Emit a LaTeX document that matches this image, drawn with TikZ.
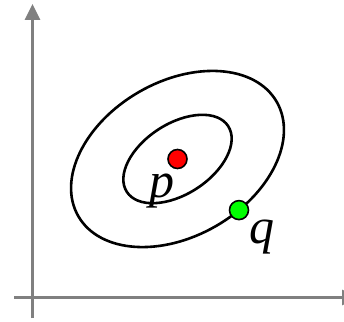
\documentclass[tikz,border=0pt]{standalone}
\usepackage{fontspec}
\setmainfont{Liberation Serif}
\usetikzlibrary{arrows.meta,positioning}
\definecolor{axisgray}{HTML}{808080}
\definecolor{meanred}{HTML}{FF0000}
\definecolor{pointgreen}{HTML}{00FF00}

\begin{document}
\begin{tikzpicture}[
  x=1pt,y=1pt,
  axis/.style={axisgray,line width=3pt,-{Triangle[width=15pt,length=16pt]}},
  level/.style={black,line width=2.6pt},
  dot/.style={circle,draw=black,line width=1.6pt,fill=#1,minimum size=19pt,inner sep=0pt},
  label/.style={font=\fontsize{50}{50}\selectfont\itshape,inner sep=0pt}
]
  \useasboundingbox (0,0) rectangle (344,321);
  % axes
  \coordinate (ybot) at (32.5,3);
  \coordinate (ytop) at (32.5,317);
  \coordinate (xleft) at (14,23.5);
  \coordinate (xright) at (358,23.5);
  \draw[axis] (xleft) -- (xright);
  \draw[axis] (ybot) -- (ytop);
  % level sets
  \coordinate (c) at (177.5,162);
  \draw[level] (c) ellipse [x radius=114.5,y radius=77.3,rotate=30];
  \draw[level] (c) ellipse [x radius=60.4,y radius=35.2,rotate=33];
  \node[dot=meanred] (pdot) at (c) {};
  \begin{scope}[shift={(c)},rotate=30]
    \node[dot=pointgreen] (qdot) at (-76:114.5 and 77.3) {};
  \end{scope}
  \node[label] (p) at (161.5,129.5) {p};
  \node[label] (q) at (262,84) {q};
\end{tikzpicture}
\end{document}
